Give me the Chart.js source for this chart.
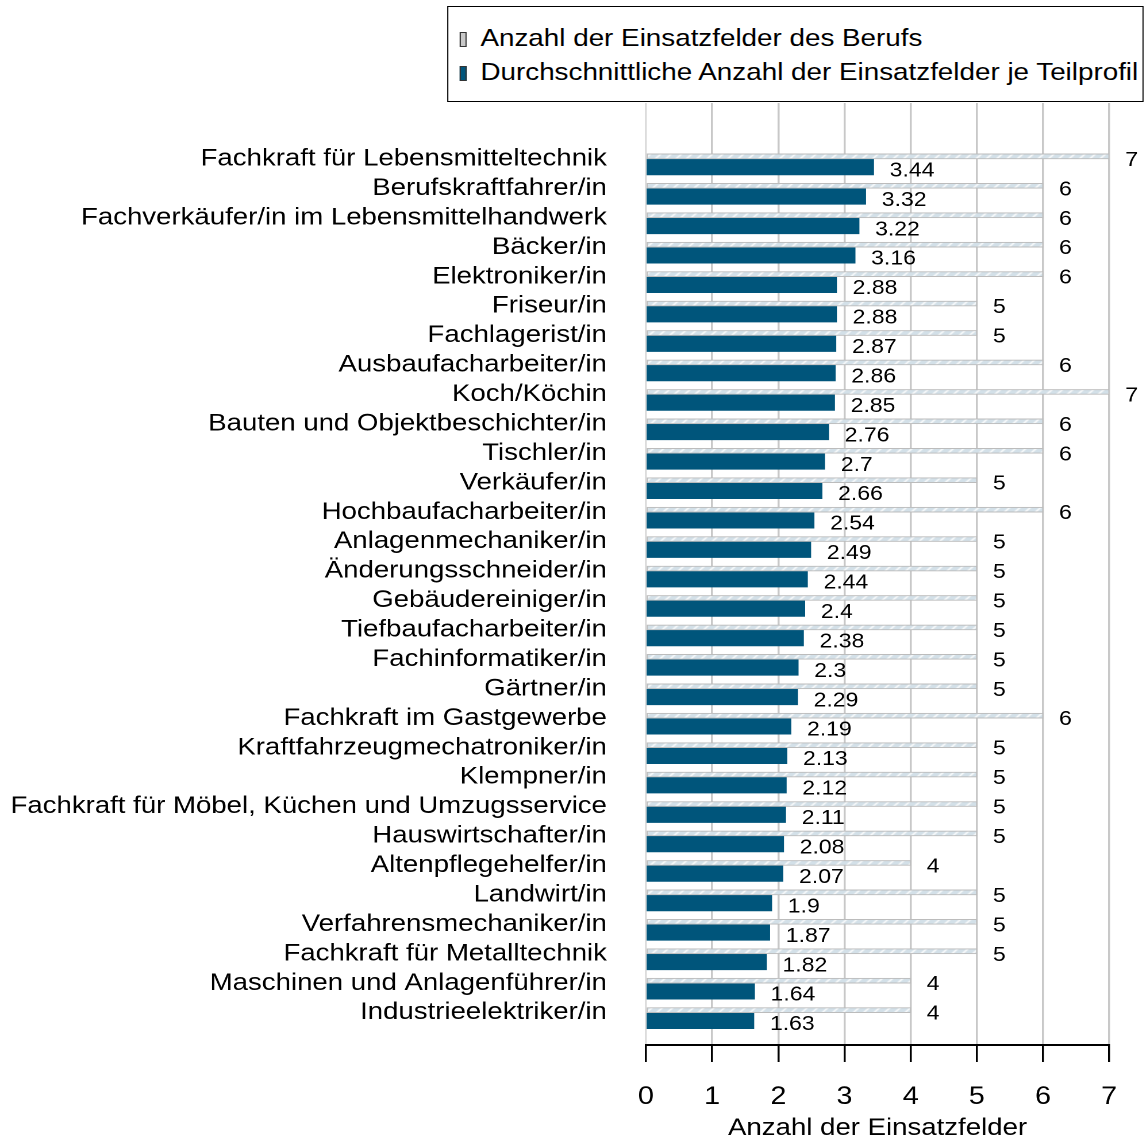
<!DOCTYPE html>
<html>
<head>
<meta charset="utf-8">
<script src="https://cdn.jsdelivr.net/npm/chart.js@4/dist/chart.umd.min.js"></script>
<style>
  body { margin: 0; background: #fff; font-family: "Liberation Sans", Arial, sans-serif; overflow: hidden; }
  /* the original figure is a horizontally stretched export; draw narrow and stretch */
  #wrap { position: relative; width: 997px; height: 1139px; transform: scaleX(1.1494); transform-origin: 0 0; }
  #legend {
    position: absolute; left: 389px; top: 6px; width: 606px; height: 96px;
    border: 1.5px solid #000; background: #fff; box-sizing: border-box;
    padding-top: 14px; font-size: 24.2px; line-height: 34px; color: #000; white-space: nowrap;
  }
  #legend div { padding-left: 10px; }
  #legend span.box {
    display: inline-block; width: 4px; height: 13px; border: 1px solid #333;
    margin-right: 12px; vertical-align: -1px;
  }
</style>
</head>
<body>
<div id="wrap">
  <canvas id="chart" width="997" height="1139"></canvas>
  <div id="legend">
    <div><span class="box" style="background:#c8c8c8"></span>Anzahl der Einsatzfelder des Berufs</div>
    <div><span class="box" style="background:#00557b"></span>Durchschnittliche Anzahl der Einsatzfelder je Teilprofil</div>
  </div>
</div>
<script>
// Berufe (von oben nach unten)
const categories = [
  'Fachkraft für Lebensmitteltechnik', 'Berufskraftfahrer/in', 'Fachverkäufer/in im Lebensmittelhandwerk',
  'Bäcker/in', 'Elektroniker/in', 'Friseur/in', 'Fachlagerist/in', 'Ausbaufacharbeiter/in',
  'Koch/Köchin', 'Bauten und Objektbeschichter/in', 'Tischler/in', 'Verkäufer/in',
  'Hochbaufacharbeiter/in', 'Anlagenmechaniker/in', 'Änderungsschneider/in', 'Gebäudereiniger/in',
  'Tiefbaufacharbeiter/in', 'Fachinformatiker/in', 'Gärtner/in', 'Fachkraft im Gastgewerbe',
  'Kraftfahrzeugmechatroniker/in', 'Klempner/in', 'Fachkraft für Möbel, Küchen und Umzugsservice',
  'Hauswirtschafter/in', 'Altenpflegehelfer/in', 'Landwirt/in', 'Verfahrensmechaniker/in',
  'Fachkraft für Metalltechnik', 'Maschinen und Anlagenführer/in', 'Industrieelektriker/in'
];

// Anzahl der Einsatzfelder des Berufs
const einsatzfelder = [7, 6, 6, 6, 6, 5, 5, 6, 7, 6, 6, 5, 6, 5, 5, 5, 5, 5, 5, 6, 5, 5, 5, 5, 4, 5, 5, 5, 4, 4];

// Durchschnittliche Anzahl der Einsatzfelder je Teilprofil
const durchschnitt = [3.44, 3.32, 3.22, 3.16, 2.88, 2.88, 2.87, 2.86, 2.85, 2.76, 2.7, 2.66, 2.54, 2.49, 2.44,
  2.4, 2.38, 2.3, 2.29, 2.19, 2.13, 2.12, 2.11, 2.08, 2.07, 1.9, 1.87, 1.82, 1.64, 1.63];

const xTicks = [0, 1, 2, 3, 4, 5, 6, 7];

const FONT = '"Liberation Sans", Arial, sans-serif';

// hatched fill for the grey bars
function makeHatch() {
  const c = document.createElement('canvas');
  c.width = 9; c.height = 9;
  const g = c.getContext('2d');
  g.fillStyle = '#d3e0e8';
  g.fillRect(0, 0, 9, 9);
  g.strokeStyle = '#ffffff';
  g.lineWidth = 1.4;
  g.beginPath();
  g.moveTo(0, 9); g.lineTo(9, 0);
  g.moveTo(-4.5, 4.5); g.lineTo(4.5, -4.5);
  g.moveTo(4.5, 13.5); g.lineTo(13.5, 4.5);
  g.stroke();
  return g.createPattern(c, 'repeat');
}

const valueLabels = {
  id: 'valueLabels',
  afterDatasetsDraw(chart) {
    const ctx = chart.ctx;
    ctx.save();
    ctx.font = '20px ' + FONT;
    ctx.fillStyle = '#000';
    ctx.textAlign = 'left';
    ctx.textBaseline = 'middle';
    chart.data.datasets.forEach((ds, di) => {
      chart.getDatasetMeta(di).data.forEach((bar, i) => {
        ctx.fillText(String(ds.data[i].x), bar.x + 14, bar.y + 4);
      });
    });
    ctx.restore();
  }
};

const ctx = document.getElementById('chart').getContext('2d');
new Chart(ctx, {
  type: 'bar',
  data: {
    datasets: [
      {
        label: 'Anzahl der Einsatzfelder des Berufs',
        data: einsatzfelder.map((v, i) => ({ x: v, y: i })),
        backgroundColor: makeHatch(),
        borderColor: '#bcbcbc',
        borderWidth: 1,
        borderSkipped: false,
        barThickness: 5
      },
      {
        label: 'Durchschnittliche Anzahl der Einsatzfelder je Teilprofil',
        data: durchschnitt.map((v, i) => ({ x: v, y: i })),
        backgroundColor: '#00557b',
        borderWidth: 0,
        barThickness: 16
      }
    ]
  },
  options: {
    indexAxis: 'y',
    responsive: false,
    devicePixelRatio: 2,
    animation: false,
    layout: { padding: { top: 100, right: 32, bottom: 0, left: 0 } },
    scales: {
      y: {
        type: 'linear',
        reverse: true,
        offset: false,
        min: -2,
        max: 30.1,
        afterFit(scale) { scale.width = 562; },
        grid: { display: false },
        border: { display: false },
        ticks: {
          stepSize: 1,
          autoSkip: false,
          maxTicksLimit: 100,
          padding: 26,
          color: '#000',
          font: { family: FONT, size: 24 },
          callback: v => (Number.isInteger(v) && categories[v]) ? categories[v] : ''
        }
      },
      x: {
        type: 'linear',
        min: 0,
        max: 7,
        afterFit(scale) { scale.height = 94; },
        afterBuildTicks(scale) { scale.ticks = xTicks.map(v => ({ value: v })); },
        grid: {
          color: c => c.index === 0 ? '#dcdcdc' : '#c8c8c8',
          lineWidth: 1.75,
          tickColor: '#000',
          tickLength: 17
        },
        border: { display: true, color: '#000', width: 2 },
        ticks: {
          padding: 20,
          color: '#000',
          font: { family: FONT, size: 25 }
        },
        title: {
          display: true,
          text: 'Anzahl der Einsatzfelder',
          color: '#000',
          font: { family: FONT, size: 24, lineHeight: 0.9 },
          padding: { top: 0, bottom: 0 }
        }
      }
    },
    plugins: {
      legend: { display: false },
      tooltip: { enabled: false }
    }
  },
  plugins: [valueLabels]
});
</script>
</body>
</html>
